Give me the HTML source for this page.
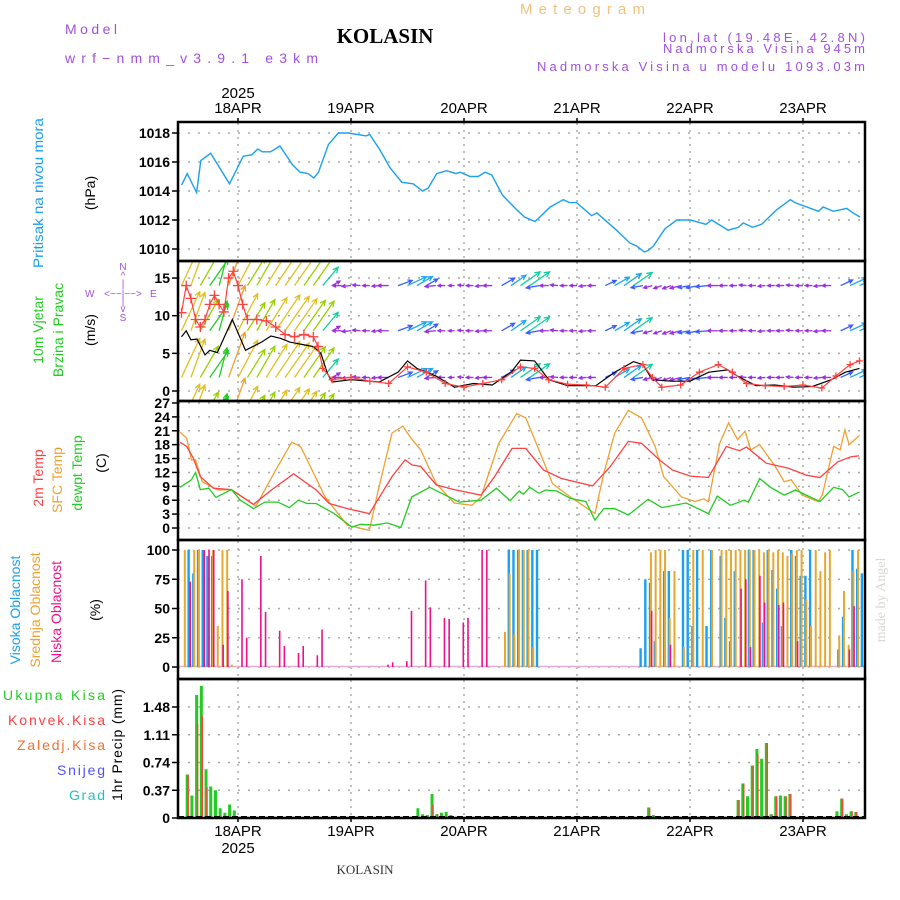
<!DOCTYPE html>
<html><head><meta charset="utf-8"><style>
body{margin:0;background:#fff}
svg{display:block;font-family:"Liberation Sans",sans-serif}
</style></head><body>
<svg id="chart" width="900" height="900" viewBox="0 0 900 900" xmlns="http://www.w3.org/2000/svg">
<defs>
<clipPath id="cp1"><rect x="178" y="123" width="687" height="137"/></clipPath>
<clipPath id="cp2"><rect x="178" y="262" width="687" height="138"/></clipPath>
<clipPath id="cp3"><rect x="178" y="402" width="687" height="137"/></clipPath>
<clipPath id="cp4"><rect x="178" y="541" width="687" height="137"/></clipPath>
<clipPath id="cp5"><rect x="178" y="680" width="687" height="137"/></clipPath>
</defs>
<g font-size="14">
<text x="65" y="34" fill="#a050e0" textLength="52" lengthAdjust="spacing">Model</text>
<text x="65" y="63" fill="#a050e0" textLength="253" lengthAdjust="spacing">wrf−nmm_v3.9.1 e3km</text>
<text x="385" y="43" text-anchor="middle" font-family="Liberation Serif,serif" font-weight="bold" font-size="21">KOLASIN</text>
<text x="520" y="14" fill="#f0c080" font-size="15" textLength="125" lengthAdjust="spacing">Meteogram</text>
<text x="663" y="42" fill="#a050e0" font-size="13" textLength="202" lengthAdjust="spacing">lon,lat (19.48E, 42.8N)</text>
<text x="663" y="53" fill="#a050e0" font-size="13" textLength="202" lengthAdjust="spacing">Nadmorska Visina 945m</text>
<text x="537" y="71" fill="#a050e0" font-size="13" textLength="328" lengthAdjust="spacing">Nadmorska Visina u modelu 1093.03m</text>
<text x="238" y="98" text-anchor="middle" font-size="15">2025</text>
<text x="238" y="853" text-anchor="middle" font-size="15">2025</text>
<text x="365" y="874" text-anchor="middle" font-family="Liberation Serif,serif" font-size="13" fill="#333">KOLASIN</text>
<text transform="translate(885,600) rotate(-90)" text-anchor="middle" font-family="Liberation Serif,serif" font-size="14" fill="#d8d8d0">made by Angel</text>
</g>
<g font-size="14">
<text transform="translate(43,193) rotate(-90)" text-anchor="middle" fill="#1aa0f0" textLength="150" lengthAdjust="spacingAndGlyphs">Pritisak na nivou mora</text>
<text transform="translate(95,193) rotate(-90)" text-anchor="middle">(hPa)</text>
<text transform="translate(43,330) rotate(-90)" text-anchor="middle" fill="#22cc22">10m Vjetar</text>
<text transform="translate(63,330) rotate(-90)" text-anchor="middle" fill="#22cc22">Brzina i Pravac</text>
<text transform="translate(95,330) rotate(-90)" text-anchor="middle">(m/s)</text>
<g fill="#a050e0" font-size="10">
<text x="123" y="270" text-anchor="middle">N</text><text x="123" y="279" text-anchor="middle">^</text><text x="123" y="287" text-anchor="middle">|</text>
<text x="85" y="297">W</text><text x="123" y="297" text-anchor="middle">&lt;−−|−−&gt;</text><text x="150" y="297">E</text>
<text x="123" y="305" text-anchor="middle">|</text><text x="123" y="312" text-anchor="middle">v</text><text x="123" y="321" text-anchor="middle">S</text>
</g>
<text transform="translate(43,478) rotate(-90)" text-anchor="middle" fill="#ff4040">2m Temp</text>
<text transform="translate(62,480) rotate(-90)" text-anchor="middle" fill="#f0a030">SFC Temp</text>
<text transform="translate(82,473) rotate(-90)" text-anchor="middle" fill="#22cc22">dewpt Temp</text>
<text transform="translate(106,463) rotate(-90)" text-anchor="middle">(C)</text>
<text transform="translate(20,610) rotate(-90)" text-anchor="middle" fill="#1aa0f0">Visoka Oblacnost</text>
<text transform="translate(40,610) rotate(-90)" text-anchor="middle" fill="#f0a030">Srednja Oblacnost</text>
<text transform="translate(61,612) rotate(-90)" text-anchor="middle" fill="#ee1188">Niska Oblacnost</text>
<text transform="translate(100,610) rotate(-90)" text-anchor="middle">(%)</text>
<text x="3" y="700" fill="#22cc22" textLength="102" lengthAdjust="spacing">Ukupna Kisa</text>
<text x="8" y="725" fill="#ff4040" textLength="97" lengthAdjust="spacing">Konvek.Kisa</text>
<text x="17" y="750" fill="#f07030" textLength="88" lengthAdjust="spacing">Zaledj.Kisa</text>
<text x="57" y="775" fill="#5050ff" textLength="48" lengthAdjust="spacing">Snijeg</text>
<text x="69" y="800" fill="#20c0c0" textLength="36" lengthAdjust="spacing">Grad</text>
<text transform="translate(122,745) rotate(-90)" text-anchor="middle" textLength="112" lengthAdjust="spacing">1hr Precip (mm)</text>
</g>
<g id="grid"></g>
<g id="marks"></g>
<g id="frames"></g>
</svg>
<script>
// ---- data ----
const dayLabels = ["18APR","19APR","20APR","21APR","22APR","23APR"];
const pTimes = [-12,-10.8,-8.8,-7.9,-5.8,-1.8,1.1,2.9,4.2,5.2,6.9,8.9,11.6,13.2,14.9,16.1,17.1,19.2,21.3,23.4,27.2,28,30.2,32.3,34.8,37.2,39.2,40.4,42.2,44.3,46.3,47.2,49.3,51,52.5,53.9,56.2,59.2,60.9,63.1,66.3,69.1,70.4,71.9,75.1,76.2,80.4,83.3,84.7,86.3,87.1,88.2,90.7,93.2,96,99.4,100.6,104.1,106.3,107.3,109.3,111.2,114.4,117.3,118.3,123.3,124.3,126.4,129.3,130.6,132.1];
const pressure = [1014.4,1015.2,1013.9,1016.1,1016.6,1014.5,1016.4,1016.5,1016.9,1016.7,1016.7,1017.1,1015.8,1015.3,1015.2,1014.9,1015.3,1017.2,1018.0,1018.0,1017.8,1017.9,1016.8,1015.6,1014.6,1014.5,1014.0,1014.2,1015.2,1015.4,1015.2,1015.3,1015.0,1015.0,1015.3,1015.1,1013.7,1012.7,1012.2,1011.9,1012.9,1013.4,1013.2,1013.2,1012.3,1012.5,1011.3,1010.4,1010.2,1009.8,1009.9,1010.2,1011.4,1012.0,1012.0,1011.7,1012.0,1011.3,1011.5,1011.8,1011.5,1011.7,1012.7,1013.4,1013.2,1012.6,1012.9,1012.6,1012.8,1012.5,1012.2];
const pTicks = [1010,1012,1014,1016,1018];

const windTimes = [-12,-10,-8,-6,-4,-2,0,2,4,6,8,10,12,14,16,18,20,22,24,26,28,30,32,34,36,38,40,42,44,46,48,50,52,54,56,58,60,62,64,66,68,70,72,74,76,78,80,82,84,86,88,90,92,94,96,98,100,102,104,106,108,110,112,114,116,118,120,122,124,126,128,130,132];
const windSpeed = [7.2,6.8,6,5.4,5.1,8,7,5.5,6,6.5,7.2,7,6.5,6.2,6,4,1.5,1.5,1.5,1.3,1.2,1.2,1.8,2.5,3.5,3,2.2,1.8,1.2,1,1,1.2,1.2,1.5,2.5,3,4,4,2.2,1.5,1.3,1.2,1.2,1.2,1.3,2,2.8,3.5,3.8,2,1.5,1.4,1.5,1.8,2,2.2,2.2,1.8,1.4,1.2,1.2,1.2,1.2,1.2,1.3,1.2,1.2,1.2,1.3,1.5,2.2,3,3.5];
const windAngle = [65,70,60,55,75,70,62,58,60,58,56,55,55,55,55,50,30,180,185,175,180,185,180,20,25,30,30,185,180,180,175,180,185,180,30,35,35,35,190,180,175,180,180,185,180,25,30,35,35,190,195,200,200,195,190,190,185,180,180,180,175,180,185,180,180,175,180,180,185,180,25,25,25];
const speedTimes = [-12,-11,-10,-8.7,-7,-6,-4.4,-1.2,1.6,5,7,9,11,16,17.6,19,20,24,30,34,36,38,42,46,50,54,58,60,63,66,70,76,80,84,86,88,92,96,100,104,106,110,114,118,122,126,129,132];
const speedVals = [7.2,8,6.8,6.9,4.8,5.4,5.1,9.5,5.4,6.5,7.3,7,6.5,5.9,5,2.3,1.2,1.5,1.2,2.5,4,3,2,0.5,1,0.8,2.5,4.1,4,1.5,0.7,0.7,2.5,3.9,3.5,1.5,1.3,1.3,2.5,2.8,2,0.7,0.8,0.5,0.6,1.5,2.5,3];
const gustTimes = [-12,-11,-10,-9,-8,-7,-6,-5,-4,-3,-2,-1,0,1,2,4,6,8,10,12,14,16,17,18,20,24,28,32,36,40,44,48,52,56,60,63,66,70,74,78,82,86,88,90,94,98,102,105,108,112,116,120,124,127,130,132];
const gustVals = [10.4,14,12.3,9.5,8.5,9.5,11.5,12.7,11.5,10.5,15,15.9,14,11.5,9.5,9.5,9.3,8.5,7.5,7.2,7.5,7.2,5.9,3,1.5,1.8,1.3,1,3.2,2.5,1,0.5,1,1.5,3.2,3,1.5,0.9,0.8,0.5,3,3.5,1.8,0.5,0.8,2.5,3.5,2.5,1,0.7,0.6,0.8,0.4,2,3.5,4];
const wTicks = [0,5,10,15];

const t2Times = [-12.3,-10.9,-9.5,-8,-5.2,-1.4,3.3,7.1,11.8,16.6,19.4,23.2,27.9,32.7,35.5,37,38.8,42.1,45.9,51.6,54.5,58.2,61.1,64.9,68.7,75.3,79.1,82.9,85.7,89.5,92.3,96.1,99.9,103.7,106.5,108,112.2,116.9,120.7,123.6,127.4,130.2,131.9];
const t2Vals = [18.5,17.6,15.1,11.1,8.6,8.3,5.1,8.2,11.7,8.2,5.3,4.2,3.1,11.1,14.7,13.6,13.3,9.3,8.3,7.1,11.1,17.2,17.2,12.5,10.7,9.1,13.3,18.7,18.3,14.7,12.5,11.2,10.9,17.6,16.7,17.5,14,12.9,11.4,10.9,14.3,15.4,15.6];
const sfcTimes = [-12.3,-10.9,-9.9,-9,-7.6,-4.3,-1.4,3.8,8,11.4,13.3,18.5,23.2,27.9,29.8,32.7,35,36.9,38.8,42.1,45.9,49.7,51.6,55.4,59.2,61.1,63.9,66.8,70.6,75.8,77.7,80,82.9,85.7,88.6,90.4,94.2,97.1,98.9,99.9,102.3,104.2,106.1,107.7,108.9,110.8,114.1,116,117.5,119.8,123.2,124.1,126.5,127.9,128.9,129.8,132];
const sfcVals = [20.7,19.4,14.7,14.7,10,8.2,8.3,4.7,12.5,18.5,17.6,6.7,0.6,-0.5,8.2,20.5,22,19.2,16.9,9.6,5.4,4.9,6.7,18.3,24.7,23.8,16.9,9.6,6.7,3.1,11.8,20.5,25.4,23.8,17.6,11.1,6.7,5.7,6.3,5.7,18.3,22.7,19.1,20.9,16.9,18,13.3,10,10.4,7.1,5.7,7.1,17.6,16.9,21.2,18,20];
const dewTimes = [-12.3,-9.9,-9,-8,-6.2,-4.7,-1.4,0.5,3.3,5.7,8.5,10.9,12.8,14.7,16.6,20.4,24.2,26,28.9,31.7,34.6,36.9,40.7,44,47,51.6,54.9,57.8,59.7,60.6,62,63.9,65.3,67.7,70.6,73.9,75.8,77.7,80,82.9,87.1,90,95.2,99.9,101.8,104.6,107.5,108.4,110.8,113.1,116,118.4,120.7,123.6,126.5,128.4,129.8,132];
const dewVals = [8.8,10.4,12,8.3,8.6,6.6,8.3,6,4.2,5.6,5.6,4.4,6,5.3,5.3,3.1,0.2,0.8,0.6,1.1,0.1,6.7,8.8,7.1,5.6,6,8.6,5.9,8,7.3,8.8,7.5,8.2,8,6.4,5.7,1.7,4.2,4.2,2.8,6.2,4.4,5.4,3.1,6.9,4.9,6,5.6,10.7,8.8,7.1,8.2,7.1,5.7,8.8,8.3,6.7,7.8];
const tTicks = [0,3,6,9,12,15,18,21,24,27];

const highHours = [-11,-10,-9,-8,-7,-6,57,58,59,60,61,62,63,85,86,87,88,90,91,94,95,96,97,99,100,102,103,104,105,108,109,111,112,113,114,115,117,118,119,120,121,127,128,130,131,132];
const highVals = [100,80,100,100,95,95,100,100,100,100,100,100,100,16,75,72,22,82,82,100,100,35,100,35,100,95,42,22,82,100,100,38,100,83,67,35,100,95,78,78,100,15,43,100,84,80];
const midHours = [-12,-10,-9,-6,-5,-4,-3,-2,56,57,58,59,60,61,62,87,88,89,90,91,92,94,96,98,100,102,103,104,105,106,107,108,109,110,111,112,113,114,115,116,117,118,119,120,121,122,123,124,125,127,128,129,130,131];
const midVals = [100,100,100,100,35,100,100,2,30,80,28,100,100,100,17,98,100,100,100,42,82,17,100,100,100,100,100,100,100,100,100,100,100,100,98,100,98,100,98,95,97,100,100,58,35,100,82,98,100,27,65,19,82,100];
const lowHours = [-11,-8,-7,-6,-4,-3,0,1,4,5,8,9,12,13,16,17,31,32,35,36,39,40,43,44,47,48,51,52,87,91,106,107,108,110,111,114,115,118,129,130];
const lowVals = [73,100,100,100,19,65,75,25,95,47,31,18,12,18,10,32,2,4,5,48,74,51,42,41,38,42,100,100,48,19,67,75,17,78,55,53,55,22,15,52];
const cTicks = [0,25,50,75,100];

const rainHours = [-11,-10,-9,-8,-7,-6,-5,-4,-3,-2,-1,37,38,39,40,41,42,43,44,45,87,88,106,107,108,109,110,111,112,113,114,115,116,117,118,127,128,129,130,131];
const rainTotal = [0.58,0.30,1.64,1.76,0.65,0.42,0.37,0.13,0.07,0.18,0.10,0.02,0.13,0.05,0.04,0.32,0.05,0.07,0.08,0.04,0.14,0.04,0.24,0.46,0.29,0.70,0.92,0.79,1.0,0.05,0.29,0.30,0.29,0.32,0.02,0.09,0.26,0.05,0.09,0.08];
const convHours = [-11,-9,-8,-7,41,42,87,106,107,109,110,112,113,114,116,117,128,130,131];
const convVals = [0.58,1.26,1.36,0.41,0.18,0.05,0.14,0.24,0.46,0.70,0.85,1.0,0.05,0.29,0.29,0.32,0.26,0.09,0.08];
const rTicks = [0,0.37,0.74,1.11,1.48];

// ---- scales ----
const X0=178, X1=865;
const xh = h => 238 + h*113/24;
const yP = p => 133 + (1018-p)*14.5;
const yW = s => 391 - s*7.53;
const yT = t => 528 - t*4.63;
const yC = c => 667 - c*1.17;
const yR = r => 818 - r*75;
const NS="http://www.w3.org/2000/svg";
const grid=document.getElementById('grid'), marks=document.getElementById('marks'), frames=document.getElementById('frames');
function mk(tag, attrs, parent){const e=document.createElementNS(NS,tag);for(const k in attrs)e.setAttribute(k,attrs[k]);parent.appendChild(e);return e;}
const panels=[[123,260,'cp1'],[262,400,'cp2'],[402,539,'cp3'],[541,678,'cp4'],[680,817,'cp5']];

panels.forEach(([t,b])=>{
  for(let d=0;d<6;d++){
    const x=xh(d*24);
    const l=mk('line',{x1:x,x2:x,y1:t,y2:b,stroke:'#aaa','stroke-width':1.5,'stroke-dasharray':'2,5'},grid);
    
    
  }
});
function hticks(vals, yf, fmt, name){
  vals.forEach(v=>{
    const y=yf(v);
    const l=mk('line',{x1:X0,x2:X1,y1:y,y2:y,stroke:'#aaa','stroke-width':1.5,'stroke-dasharray':'2,8'},grid);
    
    
    mk('line',{x1:X0-6,x2:X0,y1:y,y2:y,stroke:'#000','stroke-width':1.5},frames);
    const t=mk('text',{x:X0-8,y:y+5,'text-anchor':'end','font-size':14,'font-weight':'bold'},frames);
    t.textContent=fmt(v);
    
    
  });
}
hticks(pTicks,yP,v=>v,'pressure');
hticks(wTicks,yW,v=>v,'wind');
hticks(tTicks,yT,v=>v,'temp');
hticks(cTicks,yC,v=>v,'cloud');
hticks(rTicks,yR,v=>v===0?'0':v.toFixed(2),'precip');

dayLabels.forEach((lab,i)=>{
  const x=xh(i*24);
  let t=mk('text',{x:x,y:113,'text-anchor':'middle','font-size':15},frames);
  t.textContent=lab;
  
  
  t=mk('text',{x:x,y:836,'text-anchor':'middle','font-size':15},frames);
  t.textContent=lab;
  
  
  mk('line',{x1:x,x2:x,y1:118,y2:123,stroke:'#000','stroke-width':1.5},frames);
  mk('line',{x1:x,x2:x,y1:817,y2:822,stroke:'#000','stroke-width':1.5},frames);
});

function line(ts, vs, yf, color, clip, name, w){
  const pts=ts.map((t,i)=>xh(t).toFixed(1)+','+yf(vs[i]).toFixed(1)).join(' ');
  const p=mk('polyline',{points:pts,fill:'none',stroke:color,'stroke-width':w||1.3,'clip-path':'url(#'+clip+')'},marks);
  
  
}
line(pTimes,pressure,yP,'#1aa0f0','cp1','pressure-line',1.4);

function wcol(s){if(s<2)return '#9a30e0';if(s<2.8)return '#3a5cff';if(s<3.6)return '#1aa8f0';if(s<4.5)return '#10d0a0';if(s<5.5)return '#22cc22';if(s<6.5)return '#99d000';if(s<7.5)return '#e0c020';return '#f0a030';}
const wg=mk('g',{'clip-path':'url(#cp2)'},marks);


[14,8,1.8,-4.3].forEach(base=>{
  windTimes.forEach((h,i)=>{
    const s=windSpeed[i], a=windAngle[i]*Math.PI/180, L=s*6;
    const x0=xh(h), y0=yW(base), x1=x0+L*Math.cos(a), y1=y0-L*Math.sin(a);
    const c=wcol(s);
    const h1=a+Math.PI-0.45, h2=a+Math.PI+0.45, hl=Math.min(6,2.5+L*0.15);
    const p=mk('path',{d:`M${x0},${y0}L${x1},${y1}M${x1+hl*Math.cos(h1)},${y1-hl*Math.sin(h1)}L${x1},${y1}L${x1+hl*Math.cos(h2)},${y1-hl*Math.sin(h2)}`,stroke:c,'stroke-width':1.3,fill:'none'},wg);
    
    
  });
});
line(speedTimes,speedVals,yW,'#000','cp2','wind-speed-line',1.2);
line(gustTimes,gustVals,yW,'#ff4040','cp2','wind-gust-line',1.2);
gustTimes.forEach((h,i)=>{
  const x=xh(h), y=yW(gustVals[i]), r=gustVals[i]>5?5:3.5;
  const p=mk('path',{d:`M${x-r},${y}H${x+r}M${x},${y-r}V${y+r}`,stroke:'#ff4040','stroke-width':1.3,'clip-path':'url(#cp2)'},marks);
  
  
});

line(sfcTimes,sfcVals,yT,'#f0a030','cp3','sfc-temp-line',1.3);
line(t2Times,t2Vals,yT,'#ff4040','cp3','temp-2m-line',1.3);
line(dewTimes,dewVals,yT,'#22cc22','cp3','dewpoint-line',1.3);

const cb=mk('line',{x1:X0,x2:X1,y1:666.5,y2:666.5,stroke:'#e0b0d0','stroke-width':1.5},marks);


function bars(hours, vals, yf, off, w, color, clip, name){
  hours.forEach((h,i)=>{
    const y=yf(vals[i]), y0=yf(0);
    const r=mk('rect',{x:xh(h)+off,y:y,width:w,height:Math.max(0,y0-y),fill:color,'clip-path':'url(#'+clip+')'},marks);
    
    
  });
}
bars(highHours,highVals,yC,1.2,2.4,'#1aa0f0','cp4','high-cloud-bar');
bars(midHours,midVals,yC,2.3,2,'#e8a830','cp4','mid-cloud-bar');
bars(lowHours,lowVals,yC,3.2,1.6,'#ee1188','cp4','low-cloud-bar');

bars(rainHours,rainTotal,yR,-0.5,3,'#22cc22','cp5','total-rain-bar');
bars(convHours,convVals,yR,1.2,1.5,'#ff4040','cp5','convective-rain-bar');
const pb=mk('line',{x1:X0,x2:X1,y1:817,y2:817,stroke:'#000','stroke-width':2,'stroke-dasharray':'6,3'},marks);



panels.forEach(([t,b],i)=>{
  const r=mk('rect',{x:X0,y:t-1,width:X1-X0,height:b-t+2,fill:'none',stroke:'#000','stroke-width':2.5},frames);
  
  
});
</script>
</body></html>
